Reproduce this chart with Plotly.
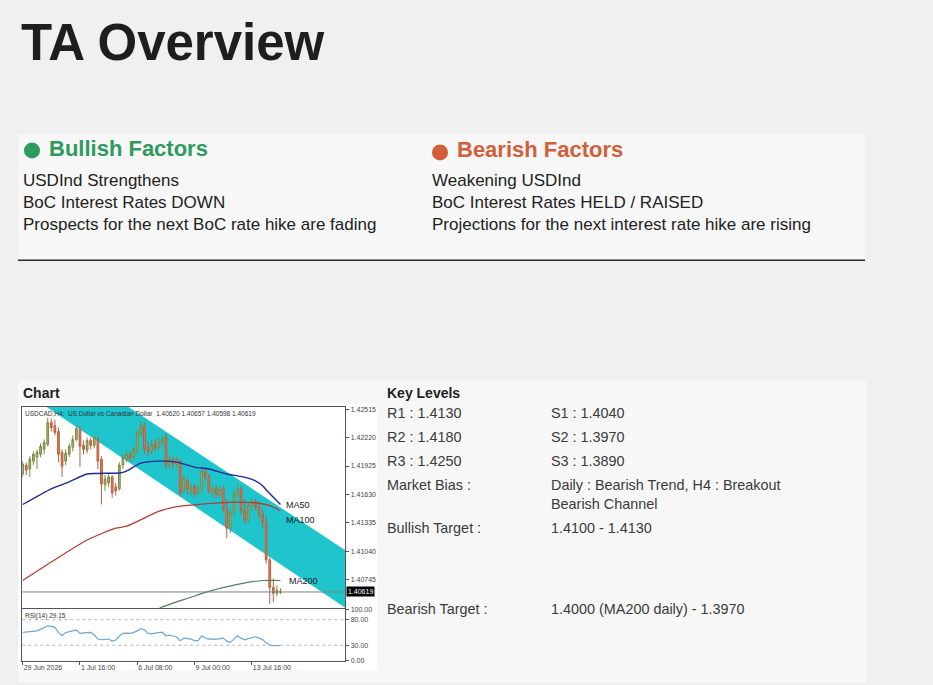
import plotly.graph_objects as go

W, H = 933, 685


def px(x):
    return x / W


def py(y):
    return 1 - y / H


# ------------------------------------------------------------------ data
opens = [
    1.41842, 1.41935, 1.41894, 1.41976, 1.42017, 1.42047, 1.42098, 1.42149, 1.42375, 1.42344,
    1.42283, 1.42068, 1.41976, 1.42047, 1.42119, 1.42201, 1.42303, 1.42139, 1.42088, 1.42190,
    1.42139, 1.42201, 1.41996, 1.41730, 1.41750, 1.41812, 1.41709, 1.41689, 1.41935, 1.41996,
    1.42047, 1.42017, 1.42078, 1.42262, 1.42344, 1.42119, 1.42078, 1.42160, 1.42119, 1.42170,
    1.42221, 1.41935, 1.41996, 1.41945, 1.41976, 1.41668, 1.41771, 1.41668, 1.41709, 1.41648,
    1.41689, 1.41873, 1.41812, 1.41648, 1.41689, 1.41627, 1.41689, 1.41485, 1.41280, 1.41444,
    1.41627, 1.41689, 1.41464, 1.41362, 1.41515, 1.41556, 1.41505, 1.41423, 1.41341, 1.40953,
    1.40667, 1.40605, 1.40620]
closes = [
    1.41945, 1.41883, 1.41996, 1.42047, 1.42068, 1.42129, 1.42170, 1.42375, 1.42324, 1.42272,
    1.42047, 1.41924, 1.42057, 1.42129, 1.42201, 1.42313, 1.42129, 1.42098, 1.42190, 1.42139,
    1.42221, 1.41976, 1.41740, 1.41791, 1.41812, 1.41648, 1.41668, 1.41935, 1.42017, 1.42047,
    1.42006, 1.42098, 1.42272, 1.42354, 1.42098, 1.42078, 1.42149, 1.42119, 1.42180, 1.42201,
    1.41935, 1.41996, 1.41955, 1.41996, 1.41648, 1.41791, 1.41689, 1.41709, 1.41638, 1.41689,
    1.41873, 1.41812, 1.41668, 1.41689, 1.41627, 1.41679, 1.41485, 1.41280, 1.41444, 1.41627,
    1.41689, 1.41464, 1.41362, 1.41515, 1.41556, 1.41505, 1.41423, 1.41341, 1.40953, 1.40667,
    1.40605, 1.40636, 1.40619]
highs = [
    1.41976, 1.41965, 1.42027, 1.42078, 1.42098, 1.42160, 1.42201, 1.42426, 1.42416, 1.42405,
    1.42324, 1.42098, 1.42098, 1.42160, 1.42242, 1.42354, 1.42334, 1.42190, 1.42221, 1.42221,
    1.42252, 1.42231, 1.42027, 1.41832, 1.41853, 1.41832, 1.41750, 1.41965, 1.42047, 1.42088,
    1.42078, 1.42129, 1.42303, 1.42385, 1.42385, 1.42180, 1.42190, 1.42201, 1.42221, 1.42242,
    1.42262, 1.42037, 1.42027, 1.42027, 1.42006, 1.41832, 1.41812, 1.41750, 1.41740, 1.41730,
    1.41904, 1.41904, 1.41842, 1.41730, 1.41720, 1.41720, 1.41720, 1.41587, 1.41485, 1.41668,
    1.41740, 1.41720, 1.41587, 1.41546, 1.41587, 1.41587, 1.41556, 1.41485, 1.41403, 1.40974,
    1.40759, 1.40687, 1.40657]
lows = [
    1.41812, 1.41832, 1.41812, 1.41935, 1.41894, 1.42017, 1.42047, 1.42129, 1.42283, 1.42242,
    1.41965, 1.41812, 1.41935, 1.42017, 1.42078, 1.42180, 1.41914, 1.42047, 1.42057, 1.42098,
    1.42109, 1.41894, 1.41526, 1.41668, 1.41709, 1.41597, 1.41617, 1.41668, 1.41894, 1.41965,
    1.41965, 1.41986, 1.42047, 1.42231, 1.42047, 1.42017, 1.42047, 1.42078, 1.42088, 1.42139,
    1.41894, 1.41894, 1.41894, 1.41904, 1.41607, 1.41638, 1.41627, 1.41617, 1.41597, 1.41607,
    1.41648, 1.41771, 1.41638, 1.41607, 1.41587, 1.41597, 1.41444, 1.41178, 1.41229, 1.41413,
    1.41597, 1.41423, 1.41321, 1.41341, 1.41464, 1.41464, 1.41382, 1.41280, 1.40912, 1.40493,
    1.40513, 1.40574, 1.40598]

rsi_values = [
    55, 56, 56, 57, 58, 61, 64, 68, 67, 65,
    55, 48.5, 55, 56, 58, 60, 53, 54, 55, 55,
    50, 42, 40.7, 41, 42, 38, 40, 48, 53, 53.5,
    53, 55, 58, 62.6, 60, 53, 52, 53.5, 54.5, 55.5,
    48.5, 49.7, 48, 46.5, 38.8, 43.8, 43, 42, 39, 38.8,
    48.5, 44, 42, 42.5, 41.5, 42, 43.8, 38, 35.5, 42,
    48.5, 43.8, 40.7, 43, 45, 46.5, 44, 41, 35, 30,
    29, 29.2, 29.15]

ma50_bars = [0, 8, 13, 18, 27, 29, 33, 38, 43, 48, 52, 57, 61.5, 65, 67, 68.5, 72]
ma50_vals = [1.41526, 1.41689, 1.41761, 1.41842, 1.41853, 1.41873, 1.41955, 1.41976, 1.41965,
             1.41914, 1.41894, 1.41842, 1.41812, 1.41771, 1.41720, 1.41658, 1.41526]
ma100_bars = [0, 9, 18, 26, 29, 38, 43, 49, 56, 64, 69, 72]
ma100_vals = [1.40738, 1.40953, 1.41158, 1.41280, 1.41301, 1.41454, 1.41505, 1.41526,
              1.41546, 1.41546, 1.41515, 1.41464]
ma200_bars = [35, 38.5, 47, 51, 60, 67, 72]
ma200_vals = [1.40370, 1.40455, 1.40564, 1.40615, 1.40697, 1.40738, 1.40738]

channel_bars = [0, 92]
channel_upper = [1.43265, 1.41004]
channel_lower = [1.42704, 1.40408]

price_ticks = [1.42515, 1.42220, 1.41925, 1.41630, 1.41335, 1.41040, 1.40745]
rsi_ticks = [0, 30, 80, 100]
rsi_levels = [30, 80]
time_tick_bars = [0, 16, 32, 48, 64]
time_tick_labels = ["29 Jun 2026", "1 Jul 16:00", "6 Jul 08:00", "9 Jul 00:00", "13 Jul 16:00"]

chart_header = "USDCAD,H4:  US Dollar vs Canadian Dollar  1.40620 1.40657 1.40598 1.40619"
rsi_header = "RSI(14) 29.15"

title_text = "TA Overview"
bullish_title = "Bullish Factors"
bearish_title = "Bearish Factors"
bullish_factors = ["USDInd Strengthens", "BoC Interest Rates DOWN",
                   "Prospects for the next BoC rate hike are fading"]
bearish_factors = ["Weakening USDInd", "BoC Interest Rates HELD / RAISED",
                   "Projections for the next interest rate hike are rising"]
key_left = ["R1 : 1.4130", "R2 : 1.4180", "R3 : 1.4250", "Market Bias :",
            "Bullish Target :", "Bearish Target :"]
key_right = ["S1 : 1.4040", "S2 : 1.3970", "S3 : 1.3890",
             "Daily : Bearish Trend, H4 : Breakout", "1.4100 - 1.4130",
             "1.4000 (MA200 daily) - 1.3970"]
key_right_extra = "Bearish Channel"

bars = list(range(len(opens)))

# ------------------------------------------------------------------ figure
BODY = "Liberation Sans, Arial, sans-serif"
MT = "Liberation Sans, Arial, sans-serif"

fig = go.Figure()

fig.add_trace(go.Candlestick(
    x=bars, open=opens, high=highs, low=lows, close=closes,
    increasing=dict(line=dict(color="#7c8a48", width=1), fillcolor="#a6ae6c"),
    decreasing=dict(line=dict(color="#b9603f", width=1), fillcolor="#e07a4e"),
    whiskerwidth=0, showlegend=False, xaxis="x", yaxis="y"))

for bx, vals, col, w in [(ma50_bars, ma50_vals, "#1f2a96", 1.4),
                         (ma100_bars, ma100_vals, "#b23f35", 1.3),
                         (ma200_bars, ma200_vals, "#4f8062", 1.2)]:
    fig.add_trace(go.Scatter(x=bx, y=vals, mode="lines",
                             line=dict(color=col, width=w, shape="spline", smoothing=0.6),
                             showlegend=False, hoverinfo="skip", xaxis="x", yaxis="y"))

fig.add_trace(go.Scatter(x=bars, y=rsi_values, mode="lines",
                         line=dict(color="#6aa7d6", width=1.2),
                         showlegend=False, xaxis="x2", yaxis="y2"))

channel_path = (f"M {channel_bars[0]},{channel_upper[0]} L {channel_bars[1]},{channel_upper[1]} "
                f"L {channel_bars[1]},{channel_lower[1]} L {channel_bars[0]},{channel_lower[0]} Z")

shapes = [
    dict(type="rect", xref="paper", yref="paper", x0=px(18), x1=px(865), y0=py(259), y1=py(131),
         fillcolor="#f7f7f7", line=dict(width=0), layer="below"),
    dict(type="line", xref="paper", yref="paper", x0=px(18), x1=px(865), y0=py(259), y1=py(259),
         line=dict(color="#2a2a2a", width=1.5)),
    dict(type="rect", xref="paper", yref="paper", x0=px(18), x1=px(866), y0=0, y1=py(381),
         fillcolor="#f7f7f7", line=dict(width=0), layer="below"),
    dict(type="rect", xref="paper", yref="paper", x0=px(19), x1=px(377), y0=py(673), y1=py(404),
         fillcolor="#ffffff", line=dict(width=0), layer="below"),
    dict(type="circle", xref="paper", yref="paper", x0=px(24), x1=px(40), y0=py(156), y1=py(140),
         fillcolor="#2e9a5d", line=dict(width=0)),
    dict(type="circle", xref="paper", yref="paper", x0=px(432), x1=px(448), y0=py(158), y1=py(142),
         fillcolor="#d05f3a", line=dict(width=0)),
    dict(type="path", xref="x", yref="y", path=channel_path, fillcolor="#1ec5cd",
         line=dict(width=0), layer="below"),
    dict(type="line", xref="x domain", yref="y", x0=0, x1=1, y0=closes[-1], y1=closes[-1],
         line=dict(color="#808080", width=1)),
]
for lv in rsi_levels:
    shapes.append(dict(type="line", xref="x2 domain", yref="y2", x0=0, x1=1, y0=lv, y1=lv,
                       line=dict(color="#b5b5b5", width=1, dash="dot")))

ann = []


def text(x, y, s, size, color="#222222", bold=False, family=BODY, anchor="left"):
    ann.append(dict(xref="paper", yref="paper", x=px(x), y=py(y), text=s, showarrow=False,
                    xanchor=anchor, yanchor="middle",
                    font=dict(size=size, color=color, family=family,
                              weight="bold" if bold else "normal")))


text(19, 39, title_text, 51, "#1e1e1e", True)
text(47, 145.5, bullish_title, 22, "#2e9a5d", True)
text(455, 147.5, bearish_title, 22, "#d05f3a", True)
for i, s in enumerate(bullish_factors):
    text(21, 178.5 + 22 * i, s, 17)
for i, s in enumerate(bearish_factors):
    text(430, 178.5 + 22 * i, s, 17)

text(21, 393, "Chart", 14, "#222222", True)
text(385, 393, "Key Levels", 14, "#222222", True)
key_y = [413.5, 437.5, 461.5, 486, 529, 611]
for s, yy in zip(key_left, key_y):
    text(385, yy, s, 14.4, "#3a3a3a")
for s, yy in zip(key_right, key_y):
    text(549, yy, s, 14.4, "#3a3a3a")
text(549, 505.5, key_right_extra, 14.4, "#3a3a3a")

# MetaTrader chart texts
ann.append(dict(xref="x domain", yref="y domain", x=0, y=1, xshift=1, yshift=-1,
                text=chart_header, showarrow=False, xanchor="left", yanchor="top",
                font=dict(size=6.5, color="#333333", family=MT)))
ann.append(dict(xref="x2 domain", yref="y2 domain", x=0, y=1, xshift=1, yshift=-1,
                text=rsi_header, showarrow=False, xanchor="left", yanchor="top",
                font=dict(size=6.5, color="#333333", family=MT)))
for bx, vals, lab, xs, ys in [(ma50_bars, ma50_vals, "MA50", 4, 0),
                              (ma100_bars, ma100_vals, "MA100", 4, -10),
                              (ma200_bars, ma200_vals, "MA200", 7, -1)]:
    ann.append(dict(xref="x", yref="y", x=bx[-1], y=vals[-1], xshift=xs, yshift=ys,
                    text=lab, showarrow=False, xanchor="left", yanchor="middle",
                    font=dict(size=9, color="#1a1a1a", family=MT)))
ann.append(dict(xref="x domain", yref="y", x=1, y=closes[-1], xshift=1,
                text=f"{closes[-1]:.5f}", showarrow=False, xanchor="left", yanchor="middle",
                bgcolor="#000000", borderpad=1,
                font=dict(size=7, color="#ffffff", family=MT)))

axis_common = dict(showgrid=False, zeroline=False, showline=True, mirror=True,
                   linecolor="#555555", linewidth=1,
                   tickfont=dict(size=7, color="#444444", family=MT),
                   ticks="outside", ticklen=3, tickcolor="#555555")

x_dom = [px(22.3), px(345.3)]
xaxis_main = dict(axis_common)
xaxis_main["ticks"] = ""
fig.update_layout(
    width=W, height=H, margin=dict(l=0, r=0, t=0, b=0),
    paper_bgcolor="#f0f0f0", plot_bgcolor="#ffffff", showlegend=False,
    shapes=shapes, annotations=ann,
    xaxis=dict(domain=x_dom, range=[-0.1, 90.1], anchor="y", showticklabels=False,
               rangeslider=dict(visible=False), **xaxis_main),
    yaxis=dict(domain=[py(610.7), py(406.7)], range=[1.40448, 1.42542], anchor="x", side="right",
               tickvals=price_ticks, tickformat=".5f", **axis_common),
    xaxis2=dict(domain=x_dom, range=[-0.1, 90.1], anchor="y2", matches="x",
                tickvals=time_tick_bars, ticktext=time_tick_labels,
                ticklabelposition="outside right", **axis_common),
    yaxis2=dict(domain=[py(663.3), py(611.7)], range=[0, 100], anchor="x2", side="right",
                tickvals=rsi_ticks, tickformat=".2f", **axis_common),
)

fig.write_html("out.html", config=dict(displayModeBar=False, responsive=False),
               post_script="document.body.style.margin='0';document.body.style.overflow='hidden';")
